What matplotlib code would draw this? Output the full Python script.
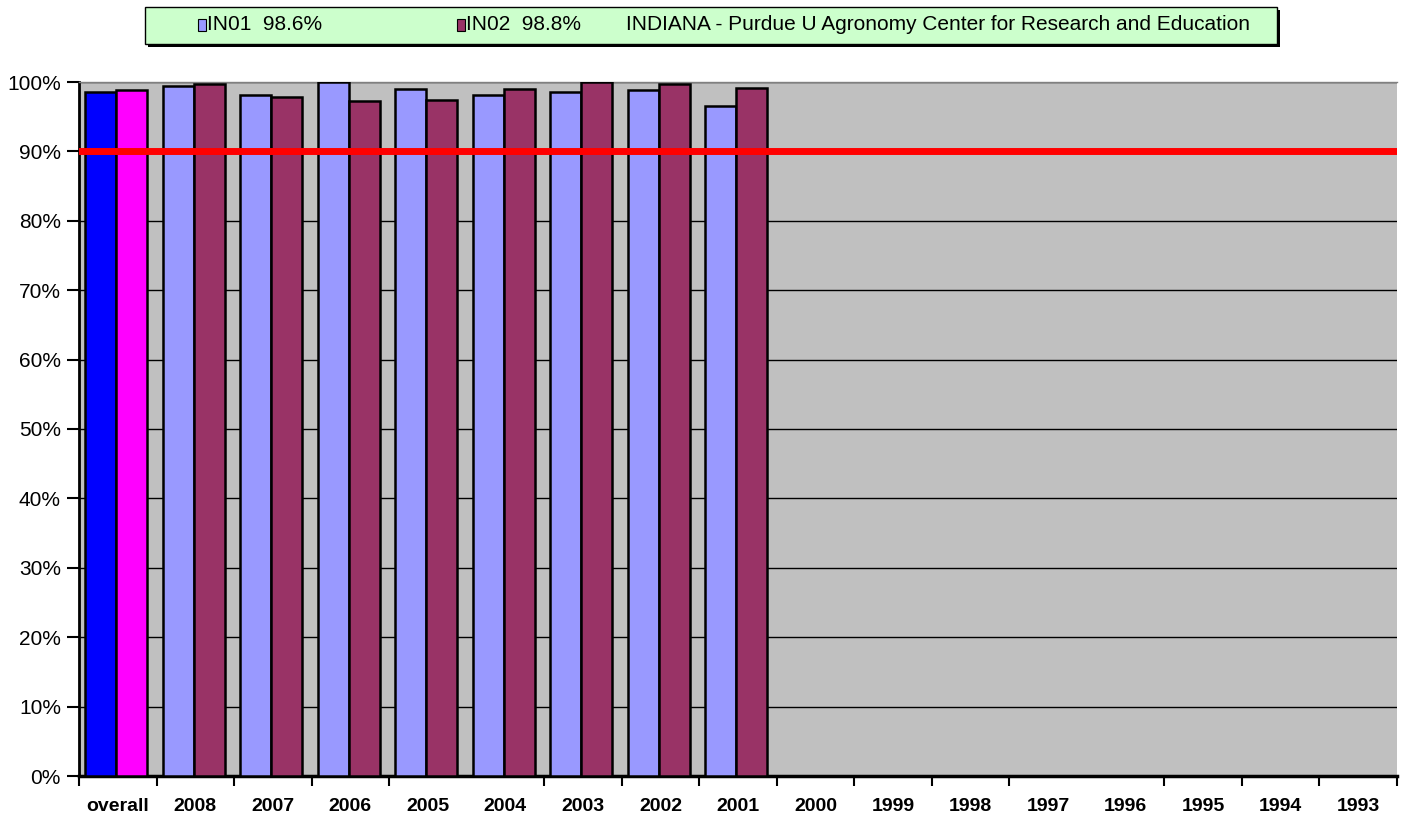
import matplotlib
matplotlib.use("Agg")
import matplotlib.pyplot as plt
import numpy as np
from matplotlib.patches import Rectangle

categories = ["overall", "2008", "2007", "2006", "2005", "2004", "2003", "2002", "2001",
              "2000", "1999", "1998", "1997", "1996", "1995", "1994", "1993"]
in01 = [98.6, 99.4, 98.1, 100.0, 99.0, 98.1, 98.6, 98.8, 96.5]
in02 = [98.8, 99.7, 97.9, 97.3, 97.4, 99.0, 100.0, 99.7, 99.2]
target = 90.0
legend_labels = ["IN01  98.6%", "IN02  98.8%",
                 "INDIANA - Purdue U Agronomy Center for Research and Education"]

c01, c02 = "#9999FF", "#993366"
c01_overall, c02_overall = "#0000FF", "#FF00FF"

plt.rcParams['font.family'] = ['Liberation Sans', 'DejaVu Sans']

fig = plt.figure(figsize=(14.08, 8.19), dpi=100)
ax = fig.add_axes([79/1408, 1-776/819, (1397-79)/1408, (776-82)/819])
ax.set_facecolor("#C0C0C0")

n = len(categories)
x = np.arange(n)
w = 0.4
off = -0.02
cols01 = [c01_overall] + [c01] * (len(in01) - 1)
cols02 = [c02_overall] + [c02] * (len(in02) - 1)
ax.bar(x[:len(in01)] - w/2 + off, in01, width=w, color=cols01, edgecolor="black", linewidth=1.8, zorder=3)
ax.bar(x[:len(in02)] + w/2 + off, in02, width=w, color=cols02, edgecolor="black", linewidth=1.8, zorder=3)

ax.axhline(target, color="#FF0000", linewidth=5, zorder=4)

ax.set_xlim(-0.5, n - 0.5)
ax.set_ylim(0, 100)
ax.set_yticks(np.arange(0, 101, 10))
ax.set_yticklabels([f"{v}%" for v in range(0, 101, 10)], fontsize=15)
ax.yaxis.grid(True, color="black", linewidth=1, zorder=1)
ax.set_axisbelow(True)

ax.set_xticks(x)
ax.set_xticklabels(categories, fontsize=14, fontweight="bold")
minor = [b for b in np.arange(-0.5, n, 1) if b not in (4.5, 12.5)]
ax.set_xticks(minor, minor=True)
ax.tick_params(axis="x", which="major", length=0, pad=16)
ax.tick_params(axis="x", which="minor", length=7, width=1.5, color="black")
ax.tick_params(axis="y", length=9, width=1.5, color="black", pad=4)

ax.spines["top"].set_color("#808080")
ax.spines["top"].set_linewidth(1)
ax.spines["right"].set_visible(False)
ax.spines["left"].set_color("black")
ax.spines["left"].set_linewidth(2)
ax.spines["bottom"].set_color("black")
ax.spines["bottom"].set_linewidth(2.5)

# legend box
lx0, ly0, lx1, ly1 = 145, 7, 1277, 44
def fx(px): return px / 1408
def fy(py): return 1 - py / 819
shadow = Rectangle((fx(lx0 + 3), fy(ly1 + 3)), fx(lx1 - lx0), (ly1 - ly0) / 819,
                   transform=fig.transFigure, facecolor="black", edgecolor="none")
box = Rectangle((fx(lx0), fy(ly1)), fx(lx1 - lx0), (ly1 - ly0) / 819,
                transform=fig.transFigure, facecolor="#CCFFCC", edgecolor="black", linewidth=1)
fig.patches.extend([shadow, box])
ymid = fy(25)
for px, col in [(198, c01), (457, c02)]:
    fig.patches.append(Rectangle((fx(px), ymid - 6/819), 8/1408, 12/819, transform=fig.transFigure,
                                 facecolor=col, edgecolor="black", linewidth=0.8))
fig.text(fx(207), ymid, legend_labels[0], fontsize=15, va="center", ha="left")
fig.text(fx(466), ymid, legend_labels[1], fontsize=15, va="center", ha="left")
fig.text(fx(626), ymid, legend_labels[2], fontsize=15, va="center", ha="left")

fig.savefig("out.png", dpi=100)
